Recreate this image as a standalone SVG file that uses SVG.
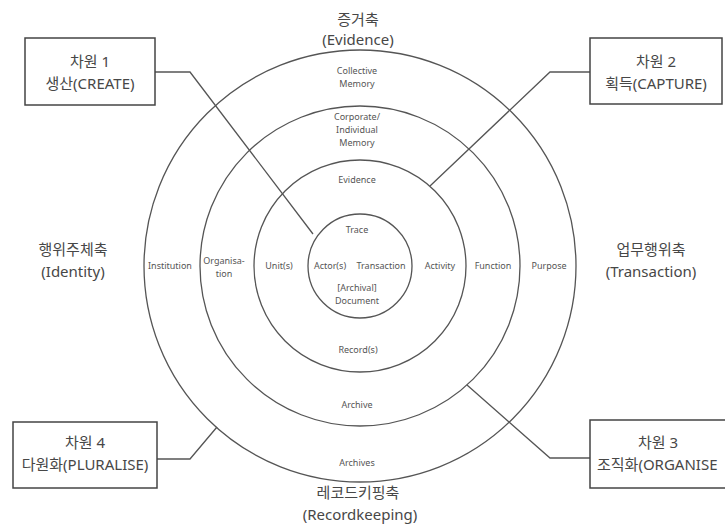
<svg xmlns="http://www.w3.org/2000/svg" width="725" height="531" viewBox="0 0 725 531">
<style>
.ring{fill:none;stroke:#555;stroke-width:1.3}
.conn{fill:none;stroke:#555;stroke-width:1.3}
.box{fill:#fff;stroke:#444;stroke-width:1.5}
.sm{font-family:"Noto Sans","Noto Sans CJK KR",sans-serif;font-size:9px;fill:#555;text-anchor:middle}
.ax{font-family:"Noto Sans","Noto Sans CJK KR",sans-serif;font-size:15px;fill:#474747;text-anchor:middle}
.bx{font-family:"Noto Sans","Noto Sans CJK KR",sans-serif;font-size:15px;fill:#474747;text-anchor:middle}
</style>
<rect width="725" height="531" fill="#fff"/>
<g id="rings">
<circle class="ring" cx="360" cy="266" r="216"/>
<circle class="ring" cx="360" cy="266" r="160"/>
<circle class="ring" cx="360" cy="266" r="106"/>
<circle class="ring" cx="360" cy="266" r="52"/>
</g>
<g id="connectors">
<polyline class="conn" points="155,72 190,72 313,234"/>
<polyline class="conn" points="590,72 550,72 430,186"/>
<polyline class="conn" points="590,458 550,458 467,385"/>
<polyline class="conn" points="157,459 190,459 217,427"/>
</g>
<g id="ring-labels">
<text class="sm" x="357" y="74">Collective</text>
<text class="sm" x="357" y="87">Memory</text>
<text class="sm" x="357" y="120">Corporate/</text>
<text class="sm" x="357" y="133">Individual</text>
<text class="sm" x="357" y="146">Memory</text>
<text class="sm" x="357" y="183">Evidence</text>
<text class="sm" x="357" y="233">Trace</text>
<text class="sm" x="330" y="269">Actor(s)</text>
<text class="sm" x="381" y="269">Transaction</text>
<text class="sm" x="357" y="291">[Archival]</text>
<text class="sm" x="357" y="304">Document</text>
<text class="sm" x="358" y="353">Record(s)</text>
<text class="sm" x="357" y="408">Archive</text>
<text class="sm" x="357" y="466">Archives</text>
<text class="sm" x="170" y="269">Institution</text>
<text class="sm" x="224" y="264">Organisa-</text>
<text class="sm" x="224" y="277">tion</text>
<text class="sm" x="279" y="269">Unit(s)</text>
<text class="sm" x="440" y="269">Activity</text>
<text class="sm" x="493" y="269">Function</text>
<text class="sm" x="549" y="269">Purpose</text>
</g>
<g id="axis-evidence">
<text class="ax" x="358" y="25">증거축</text>
<text class="ax" x="358" y="45">(Evidence)</text>
</g>
<g id="axis-identity">
<text class="ax" x="73" y="255">행위주체축</text>
<text class="ax" x="73" y="277">(Identity)</text>
</g>
<g id="axis-transaction">
<text class="ax" x="651" y="255">업무행위축</text>
<text class="ax" x="651" y="277">(Transaction)</text>
</g>
<g id="axis-recordkeeping">
<text class="ax" x="358" y="498">레코드키핑축</text>
<text class="ax" x="360" y="520">(Recordkeeping)</text>
</g>
<g id="dim1">
<rect class="box" x="25" y="38" width="130" height="67"/>
<text class="bx" x="90" y="67">차원 1</text>
<text class="bx" x="90" y="89">생산(CREATE)</text>
</g>
<g id="dim2">
<rect class="box" x="590" y="38" width="132" height="66"/>
<text class="bx" x="656" y="67">차원 2</text>
<text class="bx" x="656" y="89">획득(CAPTURE)</text>
</g>
<g id="dim3">
<rect class="box" x="590" y="420" width="145" height="68"/>
<text class="bx" x="658" y="448">차원 3</text>
<text class="bx" x="597" y="470" style="text-anchor:start">조직화(ORGANISE</text>
</g>
<g id="dim4">
<rect class="box" x="13" y="422" width="144" height="66"/>
<text class="bx" x="85" y="448">차원 4</text>
<text class="bx" x="85" y="470">다원화(PLURALISE)</text>
</g>
</svg>
